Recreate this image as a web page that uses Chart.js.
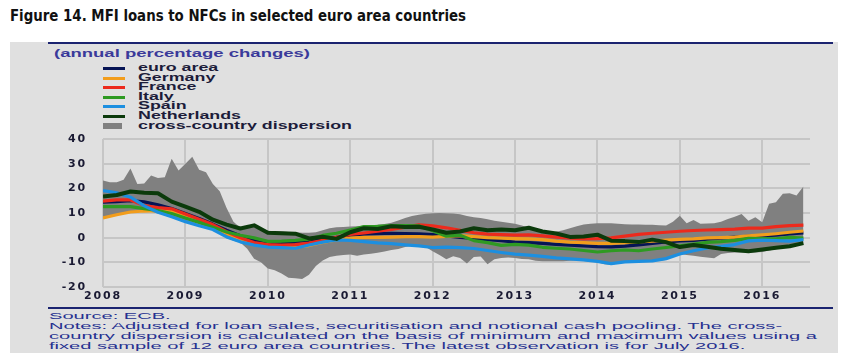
<!DOCTYPE html>
<html><head><meta charset="utf-8">
<script src="https://cdn.jsdelivr.net/npm/chart.js@4.4.1/dist/chart.umd.min.js"></script>
<style>
html,body{margin:0;padding:0;background:#fff;width:847px;height:356px;overflow:hidden;position:relative;}
#title{position:absolute;left:10px;top:6px;font-family:"DejaVu Sans Condensed","DejaVu Sans",sans-serif;font-weight:bold;font-size:15px;line-height:20px;color:#111;white-space:nowrap;transform-origin:0 50%;}
#panel{position:absolute;left:10px;top:42px;width:828px;height:311px;background:#e0e0e0;}
.rule{position:absolute;left:48px;width:785px;height:2px;background:#1b2470;}
.fit{position:absolute;white-space:nowrap;transform-origin:0 50%;font-family:"Liberation Sans",Arial,sans-serif;line-height:10px;height:10px;}
.lg{font-size:10px;font-weight:bold;color:#1c1c3a;left:138px;}
.note{font-size:9.5px;color:#263190;left:49px;}
.sw{position:absolute;left:103px;width:22px;height:3px;}
#cv{position:absolute;left:0;top:0;}
</style></head>
<body>
<div id="panel"></div>
<div class="rule" style="top:42px"></div>
<div class="rule" style="top:307px"></div>
<div id="title" data-w="456">Figure 14. MFI loans to NFCs in selected euro area countries</div>
<div class="fit" style="left:54px;top:49px;font-size:10px;font-weight:bold;color:#3a3a9a" data-w="256">(annual percentage changes)</div>
<div id="legend"></div>
<div class="fit note" style="top:311px">Source: ECB.</div>
<div class="fit note" style="top:321px">Notes: Adjusted for loan sales, securitisation and notional cash pooling. The cross-</div>
<div class="fit note" id="noteRef" style="top:331px">country dispersion is calculated on the basis of minimum and maximum values using a</div>
<div class="fit note" style="top:341px">fixed sample of 12 euro area countries. The latest observation is for July 2016.</div>
<canvas id="cv" width="847" height="356"></canvas>
<script>
// ---- data ----
const yearTicks = [2008, 2009, 2010, 2011, 2012, 2013, 2014, 2015, 2016];
const yTicks = [-20, -10, 0, 10, 20, 30, 40];
const seriesNames = ['euro area', 'Germany', 'France', 'Italy', 'Spain', 'Netherlands'];
const dispersionName = 'cross-country dispersion';

// line series: every second month, Jan 2008 .. Jul 2016
const euroArea = [14.4,14.6,15.0,14.5,13.3,11.8, 9.8,7.8,5.5,3.0,0.8,-1.2, -2.5,-2.4,-1.7,-1.0,-0.4,0.1, 1.0,1.4,1.6,1.8,1.6,1.5, 1.2,0.7,0.1,-0.3,-0.8,-1.2, -1.8,-2.0,-2.3,-2.7,-3.0,-3.3, -3.6,-3.7,-3.4,-2.9,-2.3,-1.7, -1.3,-1.1,-0.6,-0.2,0.2,0.5, 0.7,1.0,1.5,1.9];
const germany = [8.0,9.3,10.4,10.8,11.0,10.6, 8.6,6.0,3.9,1.8,-0.6,-2.3, -3.0,-3.7,-3.7,-3.2,-1.9,-0.9, -0.2,0.1,0.1,0.2,0.4,0.4, 0.2,0.5,0.8,0.4,0.0,-0.2, -0.4,-0.5,-0.8,-1.4,-1.8,-2.0, -2.3,-2.3,-2.0,-1.7,-1.4,-1.0, -0.7,-0.5,-0.1,0.0,0.2,0.7, 1.1,1.6,2.2,2.7];
const france = [14.8,15.3,15.3,13.0,12.2,11.7, 9.6,7.5,5.3,2.4,0.0,-2.0, -2.8,-3.0,-2.8,-2.2,-1.1,0.1, 1.3,1.9,2.6,3.3,4.3,5.2, 4.8,4.0,3.0,2.0,1.4,1.2, 1.0,1.1,0.7,0.2,-0.2,-0.5, -0.4,-0.1,0.6,1.3,1.8,2.2, 2.6,2.9,3.1,3.3,3.5,3.9, 3.9,4.5,4.9,5.1];
const italy = [12.6,12.6,12.6,11.8,11.0,9.8, 8.0,6.2,4.2,2.3,1.0,-0.1, -1.5,-1.4,-1.1,-0.6,0.9,1.8, 3.1,4.5,4.6,4.9,4.9,4.8, 2.8,0.6,1.0,-1.2,-2.0,-3.1, -2.7,-3.0,-3.9,-4.3,-4.6,-5.2, -5.8,-5.3,-5.0,-5.3,-4.6,-4.0, -3.3,-2.6,-1.9,-1.6,-1.1,-0.3, -0.4,-0.5,0.1,-0.2];
const spain = [19.1,18.2,16.4,12.9,10.3,8.5, 6.5,4.8,3.3,0.3,-1.7,-3.0, -3.8,-4.0,-4.3,-3.0,-1.8,-0.9, -1.1,-1.6,-2.1,-2.4,-2.9,-3.3, -4.0,-3.8,-4.0,-4.4,-5.2,-6.0, -6.7,-7.1,-7.6,-8.2,-8.6,-9.0, -9.6,-10.5,-9.8,-9.6,-9.4,-8.5, -6.6,-5.3,-4.2,-3.5,-2.8,-1.3, -1.0,-1.2,-1.4,-0.8];
const netherlands = [16.7,17.3,18.7,18.2,18.0,14.6, 12.6,10.5,7.3,5.3,3.7,5.0, 2.0,1.8,1.6,-0.3,0.4,-0.5, 2.2,3.8,3.5,4.6,4.3,4.4, 3.3,2.0,2.5,3.8,3.0,3.3, 3.0,4.0,2.5,1.7,0.3,0.5, 1.2,-1.2,-1.4,-1.8,-0.8,-1.8, -3.8,-3.0,-3.7,-4.5,-5.0,-5.5, -4.8,-4.1,-3.5,-2.2];

// dispersion band: monthly, Jan 2008 .. Jul 2016
const dispMax = [23.2,22.5,22.5,23.5,28.0,21.8,22.0,25.2,24.2,24.5,32.0,27.2,
  30.0,32.8,27.5,26.5,21.8,18.8,12.0,6.5,4.0,4.5,5.3,3.5,
  2.8,2.6,2.5,2.3,2.2,2.0,2.0,2.2,3.0,3.8,4.2,4.3,
  4.5,4.6,4.8,5.0,5.2,5.5,6.0,7.0,8.0,8.8,9.3,9.7,
  9.9,10.0,9.9,9.8,9.5,8.8,8.3,8.0,7.5,6.9,6.5,6.0,
  5.6,4.9,4.0,3.0,2.5,2.2,2.4,3.0,3.8,4.6,5.3,5.6,
  5.8,5.8,5.8,5.6,5.4,5.3,5.3,5.2,5.2,5.0,4.9,6.5,
  8.9,5.8,7.2,5.6,5.7,5.8,6.5,7.6,8.5,9.6,6.9,8.3,
  6.2,13.7,14.4,17.8,18.0,17.1,20.7];
const dispMin = [8.0,8.4,9.1,9.8,10.2,10.5,10.6,10.4,9.9,9.2,8.2,7.4,
  6.3,5.4,4.5,3.8,3.0,1.7,0.0,-1.2,-2.0,-4.5,-8.5,-10.0,
  -12.5,-13.2,-14.5,-16.2,-16.5,-16.8,-15.0,-11.5,-9.3,-7.8,-7.3,-7.0,
  -6.8,-7.3,-6.8,-6.5,-6.1,-5.6,-5.0,-4.6,-3.8,-3.3,-3.5,-3.8,
  -5.5,-7.0,-8.7,-7.5,-8.2,-10.5,-7.8,-7.6,-10.8,-8.7,-8.2,-8.0,
  -8.2,-8.6,-8.8,-9.4,-9.6,-9.6,-9.6,-9.6,-9.4,-9.3,-9.5,-9.8,
  -10.0,-10.8,-11.0,-10.5,-10.0,-9.6,-9.8,-9.6,-9.6,-9.4,-9.1,-7.5,
  -6.6,-7.0,-7.3,-7.7,-8.0,-8.3,-6.6,-6.2,-6.0,-6.0,-6.0,-6.0,
  -5.8,-5.2,-4.7,-4.2,-3.5,-3.0,-2.3];

// time positions (decimal years)
const lineDates = euroArea.map((_, k) => 2008 + k * 2 / 12);
const dispDates = dispMax.map((_, m) => 2008 + m / 12);

const colors = ['#061455', '#f29d1c', '#ec2a1c', '#2e9a22', '#1c8fe0', '#0b3a0b'];
const widths = [3.2, 3.2, 3.2, 3.2, 3.2, 4];
const drawOrder = [5, 4, 3, 2, 1, 0];
const lineSeries = [euroArea, germany, france, italy, spain, netherlands];

// ---- legend (HTML) ----
const legendRows = [68, 78, 87, 97, 106, 116, 126];
const lg = document.getElementById('legend');
seriesNames.concat([dispersionName]).forEach((name, i) => {
  const sw = document.createElement('div');
  sw.className = 'sw';
  if (i < seriesNames.length) {
    sw.style.top = (legendRows[i] - 1.5) + 'px';
    sw.style.background = colors[i];
  } else {
    sw.style.top = (legendRows[i] - 3) + 'px';
    sw.style.height = '6px';
    sw.style.width = '19px';
    sw.style.background = '#808080';
  }
  lg.appendChild(sw);
  const t = document.createElement('div');
  t.className = 'fit lg';
  t.style.top = (legendRows[i] - 5) + 'px';
  t.textContent = name;
  lg.appendChild(t);
});

// fit text widths
function groupScale(sel, refEl, target) {
  const k = target / refEl.getBoundingClientRect().width;
  document.querySelectorAll(sel).forEach(el => el.style.transform = 'scaleX(' + k + ')');
}
document.querySelectorAll('[data-w]').forEach(el => {
  const w = el.getBoundingClientRect().width;
  el.style.transform = 'scaleX(' + (parseFloat(el.dataset.w) / w) + ')';
});
groupScale('.lg', [...document.querySelectorAll('.lg')].pop(), 214);
groupScale('.note', document.getElementById('noteRef'), 768);

// ---- chart ----
const datasets = [
  { label: 'max', data: dispDates.map((x, i) => ({x, y: dispMax[i]})), borderWidth: 0, borderColor: 'rgba(0,0,0,0)',
    backgroundColor: '#808080', fill: 1, pointRadius: 0, order: 20 },
  { label: 'min', data: dispDates.map((x, i) => ({x, y: dispMin[i]})), borderWidth: 0, borderColor: 'rgba(0,0,0,0)',
    fill: false, pointRadius: 0, order: 21 }
];
lineSeries.forEach((s, i) => {
  datasets.push({
    label: seriesNames[i],
    data: lineDates.map((x, k) => ({x, y: s[k]})),
    borderColor: colors[i], borderWidth: widths[i], fill: false,
    pointRadius: 0, tension: 0, order: drawOrder[i], borderJoinStyle: 'round', borderCapStyle: 'butt'
  });
});

const spacing = {
  id: 'spacing',
  beforeDraw(c) { c.ctx.letterSpacing = '1.8px'; },
  afterDraw(c) { c.ctx.letterSpacing = '0px'; }
};

const tickFont = { family: 'DejaVu Sans', size: 11, weight: 'bold' };
new Chart(document.getElementById('cv'), {
  type: 'line',
  data: { datasets },
  plugins: [spacing],
  options: {
    responsive: false, animation: false, devicePixelRatio: 1,
    layout: { padding: { left: 50, right: 37, top: 139, bottom: 49 } },
    plugins: { legend: { display: false }, tooltip: { enabled: false } },
    scales: {
      x: {
        type: 'linear', min: 2008, max: 2016.58,
        afterBuildTicks: s => { s.ticks = yearTicks.map(v => ({ value: v })); },
        afterFit: s => { s.height = 20; },
        grid: { color: '#c6c6c6', lineWidth: 2, drawTicks: false },
        border: { display: false },
        ticks: { autoSkip: false, maxRotation: 0, padding: 3, color: '#1a1a33', font: tickFont,
          callback: v => String(v) }
      },
      y: {
        type: 'linear', min: -20, max: 40,
        afterBuildTicks: s => { s.ticks = yTicks.map(v => ({ value: v })); },
        afterFit: s => { s.width = 53; },
        grid: { color: '#c6c6c6', lineWidth: 2, drawTicks: false },
        border: { display: false },
        ticks: { padding: 16, color: '#1a1a33', font: tickFont,
          callback: v => String(v) }
      }
    }
  }
});
</script>
</body></html>
